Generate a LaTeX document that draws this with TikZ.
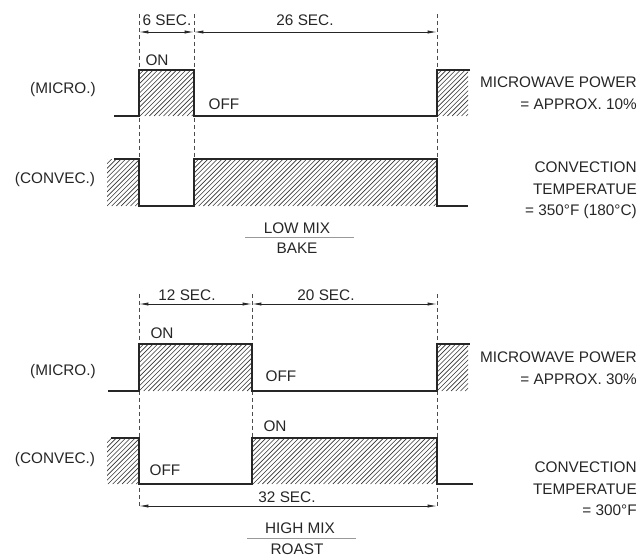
\documentclass[tikz,border=0pt]{standalone}
\usepackage{fontspec}
\setmainfont{Liberation Sans}
\usetikzlibrary{arrows.meta}

\newcommand{\hatchbox}[4]{%
  \begin{scope}
    \clip (#1,#2) rectangle (#3,#4);
    \pgfmathsetmacro{\hh}{#4-#2}
    \pgfmathsetmacro{\xs}{#1-\hh}
    \pgfmathsetmacro{\xn}{#1-\hh+4.7}
    \foreach \xx in {\xs,\xn,...,#3} \draw[hatchline] (\xx,#4) -- ++(\hh,-\hh);
  \end{scope}}

\tikzset{
  wave/.style={line width=1.5pt, line join=miter, black!85},
  dimline/.style={line width=0.6pt, black!85, {Latex[length=7pt,width=2.4pt]}-{Latex[length=7pt,width=2.4pt]}},
  guide/.style={line width=0.6pt, black!70, dash pattern=on 3pt off 2.2pt},
  hatchline/.style={line width=0.45pt, black!80},
  lbl/.style={inner sep=0pt, font=\fontsize{11.5}{16.5}\selectfont, text=black!85},
  rlbl/.style={lbl, align=right, anchor=east},
  mixrule/.style={line width=0.5pt, black!40}
}

\begin{document}
\begin{tikzpicture}[x=0.75pt, y=-0.75pt]
\useasboundingbox (0,0) rectangle (641,554);

% ================= TOP: LOW MIX / BAKE =================
% guides
\coordinate (ga1) at (139,14); \coordinate (gb1) at (139,159);
\coordinate (ga2) at (194,14); \coordinate (gb2) at (194,159);
\coordinate (ga3) at (437,14); \coordinate (gb3) at (437,159);
\draw[guide] (ga1) -- (gb1);
\draw[guide] (ga2) -- (gb2);
\draw[guide] (ga3) -- (gb3);

% dimensions
\coordinate (d1) at (139,32); \coordinate (d2) at (194,32); \coordinate (d3) at (437,32);
\draw[dimline] (d1) -- (d2);
\draw[dimline] (d2) -- (d3);
\node[lbl] (t6) at (167,20) {6 SEC.};
\node[lbl] (t26) at (305,20) {26 SEC.};

% micro waveform
\hatchbox{139}{70}{194}{116}
\hatchbox{437}{70}{468}{116}
\draw[wave] (114,116) -- (139,116) -- (139,70) -- (194,70) -- (194,116) -- (437,116) -- (437,70) -- (470,70);
\node[lbl] (on1) at (157,60) {ON};
\node[lbl] (off1) at (224,104) {OFF};
\node[lbl] (mic1) at (63,90) {(MICRO.)};
\node[rlbl] (mp1) at (637,93) {MICROWAVE POWER\\= APPROX. 10\%};

% convec waveform
\hatchbox{107}{159}{139}{206}
\hatchbox{194}{159}{437}{206}
\draw[wave] (114,159) -- (139,159) -- (139,206) -- (194,206) -- (194,159) -- (437,159) -- (437,206) -- (468,206);
\node[lbl] (con1) at (55,180) {(CONVEC.)};
\node[rlbl, font=\fontsize{11.5}{16.1}\selectfont] (ct1) at (637,190.5) {CONVECTION\\TEMPERATUE\\= 350°F (180°C)};

% mix label
\node[lbl] (mix1) at (297,228) {LOW MIX};
\coordinate (r1a) at (245,237); \coordinate (r1b) at (354,237);
\draw[mixrule] (r1a) -- (r1b);
\node[lbl] (bake) at (297,248) {BAKE};

% ================= BOTTOM: HIGH MIX / ROAST =================
\coordinate (ha1) at (139,294); \coordinate (hb1) at (139,508);
\coordinate (ha2) at (252,294); \coordinate (hb2) at (252,438);
\coordinate (ha3) at (437,294); \coordinate (hb3) at (437,508);
\draw[guide] (ha1) -- (hb1);
\draw[guide] (ha2) -- (hb2);
\draw[guide] (ha3) -- (hb3);

\coordinate (e1) at (139,304); \coordinate (e2) at (252,304); \coordinate (e3) at (437,304);
\draw[dimline] (e1) -- (e2);
\draw[dimline] (e2) -- (e3);
\node[lbl] (t12) at (187,295) {12 SEC.};
\node[lbl] (t20) at (326,295) {20 SEC.};

% micro waveform
\hatchbox{139}{344}{252}{391}
\hatchbox{437}{344}{468}{391}
\draw[wave] (108,391) -- (139,391) -- (139,344) -- (252,344) -- (252,391) -- (437,391) -- (437,344) -- (470,344);
\node[lbl] (on2) at (162,333) {ON};
\node[lbl] (off2) at (281,376) {OFF};
\node[lbl] (mic2) at (63,372) {(MICRO.)};
\node[rlbl] (mp2) at (637,368.5) {MICROWAVE POWER\\= APPROX. 30\%};

% convec waveform
\hatchbox{107}{438}{139}{484}
\hatchbox{252}{438}{437}{484}
\draw[wave] (111,438) -- (139,438) -- (139,484) -- (252,484) -- (252,438) -- (437,438) -- (437,484) -- (473,484);
\node[lbl] (on3) at (275,426) {ON};
\node[lbl] (off3) at (165,470) {OFF};
\node[lbl] (con2) at (55,460) {(CONVEC.)};
\node[rlbl, font=\fontsize{11.5}{16.1}\selectfont] (ct2) at (637,489) {CONVECTION\\TEMPERATUE\\= 300°F};

% 32 sec dimension
\coordinate (f1) at (139,506); \coordinate (f2) at (437,506);
\draw[dimline] (f1) -- (f2);
\node[lbl] (t32) at (287,497) {32 SEC.};

% mix label
\node[lbl] (mix2) at (300,528) {HIGH MIX};
\coordinate (r2a) at (247,538); \coordinate (r2b) at (356,538);
\draw[mixrule] (r2a) -- (r2b);
\node[lbl] (roast) at (297,549) {ROAST};
\end{tikzpicture}
\end{document}
